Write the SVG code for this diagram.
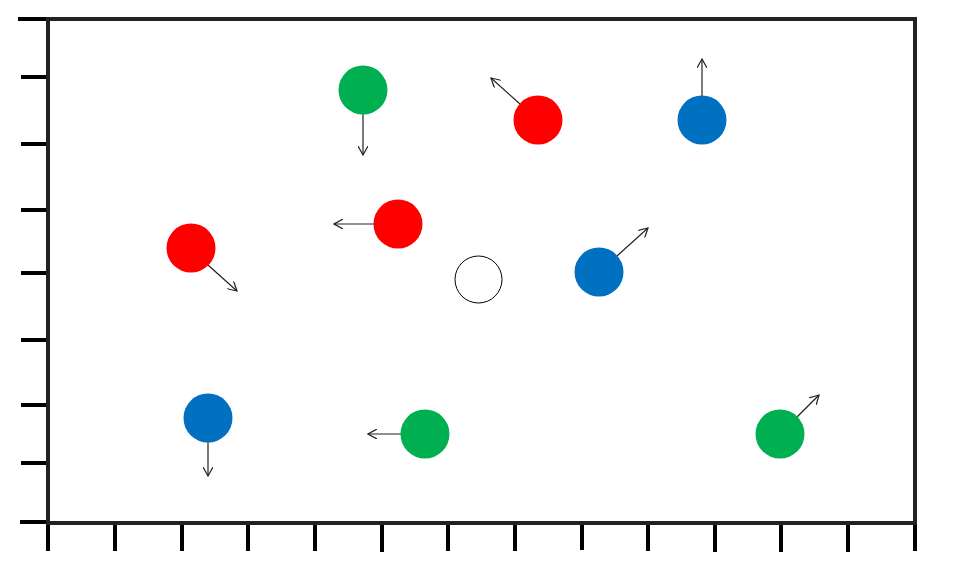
<svg xmlns="http://www.w3.org/2000/svg" width="955" height="562" viewBox="0 0 955 562">
<defs>
<style>
.frame{fill:none;stroke:#222;stroke-width:4}
.tick{stroke:#000;stroke-width:4}
.arr{stroke:#222;stroke-width:1.2;fill:none;marker-end:url(#ah)}
.g{fill:#00B050}.r{fill:#FF0000}.b{fill:#0070C0}
</style>
<marker id="ah" viewBox="0 0 10 10" refX="9" refY="5" markerWidth="10" markerHeight="10" markerUnits="userSpaceOnUse" orient="auto">
<path d="M0,0 L9,5 L0,10" fill="none" stroke="#222" stroke-width="1.2"/>
</marker>
</defs>
<rect width="955" height="562" fill="#fff"/>
<g id="axes">
<g class="tick">
<line x1="18" y1="19" x2="48" y2="19"/>
<line x1="21" y1="77" x2="48" y2="77"/>
<line x1="21" y1="144" x2="48" y2="144"/>
<line x1="21" y1="210" x2="48" y2="210"/>
<line x1="21" y1="273" x2="48" y2="273"/>
<line x1="21" y1="340" x2="48" y2="340"/>
<line x1="21" y1="405" x2="48" y2="405"/>
<line x1="21" y1="463" x2="48" y2="463"/>
<line x1="20" y1="522" x2="48" y2="522"/>
<line x1="48" y1="523" x2="48" y2="551"/>
<line x1="115" y1="523" x2="115" y2="551"/>
<line x1="182" y1="523" x2="182" y2="551"/>
<line x1="248" y1="523" x2="248" y2="551"/>
<line x1="315" y1="523" x2="315" y2="551"/>
<line x1="382" y1="523" x2="382" y2="552"/>
<line x1="448" y1="523" x2="448" y2="551"/>
<line x1="515" y1="523" x2="515" y2="551"/>
<line x1="582" y1="523" x2="582" y2="550"/>
<line x1="648" y1="523" x2="648" y2="551"/>
<line x1="715" y1="523" x2="715" y2="552"/>
<line x1="781" y1="523" x2="781" y2="552"/>
<line x1="848" y1="523" x2="848" y2="552"/>
<line x1="915" y1="523" x2="915" y2="551"/>
</g>
<rect class="frame" x="48" y="19" width="867" height="504"/>
</g>
<g id="connectors">
<line class="arr" x1="363" y1="114" x2="363" y2="155"/>
<line class="arr" x1="520" y1="104" x2="491" y2="78"/>
<line class="arr" x1="702" y1="96" x2="702" y2="59"/>
<line class="arr" x1="374" y1="224" x2="334" y2="224"/>
<line class="arr" x1="208" y1="265" x2="237" y2="291"/>
<line class="arr" x1="617" y1="256" x2="648" y2="228"/>
<line class="arr" x1="208" y1="442" x2="208" y2="476"/>
<line class="arr" x1="401" y1="434" x2="368" y2="434"/>
<line class="arr" x1="797" y1="417" x2="819" y2="395"/>
</g>
<g id="n1"><circle class="g" cx="363" cy="90" r="24.5"/></g>
<g id="n2"><circle class="r" cx="538" cy="120" r="24.5"/></g>
<g id="n3"><circle class="b" cx="702" cy="120" r="24.5"/></g>
<g id="n4"><circle class="r" cx="398" cy="224" r="24.5"/></g>
<g id="n5"><circle class="r" cx="191" cy="248" r="24.5"/></g>
<g id="n6"><circle cx="478.5" cy="279.5" r="23.5" fill="#fff" stroke="#000" stroke-width="1"/></g>
<g id="n7"><circle class="b" cx="599" cy="272" r="24.5"/></g>
<g id="n8"><circle class="b" cx="208" cy="418" r="24.5"/></g>
<g id="n9"><circle class="g" cx="425" cy="434" r="24.5"/></g>
<g id="n10"><circle class="g" cx="780" cy="434" r="24.5"/></g>
</svg>
